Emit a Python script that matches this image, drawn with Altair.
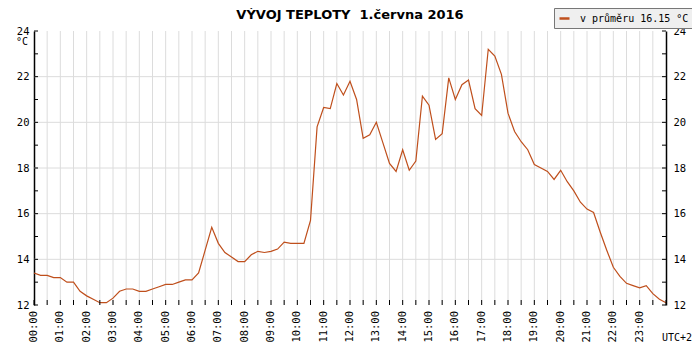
import altair as alt
import pandas as pd

# ---------------- data ----------------
TITLE = "VÝVOJ TEPLOTY\u00a0 1.června 2016"
SERIES = "v průměru 16.15 °C"
UNIT = "°C"
TZ = "UTC+2"
STEP_MIN = 15  # sampling interval in minutes

temps = [
    13.4, 13.3, 13.3, 13.2, 13.2, 13.0, 13.0, 12.6,   # 00:00 - 01:45
    12.4, 12.25, 12.1, 12.1, 12.3, 12.6, 12.7, 12.7,  # 02:00 - 03:45
    12.6, 12.6, 12.7, 12.8, 12.9, 12.9, 13.0, 13.1,   # 04:00 - 05:45
    13.1, 13.4, 14.4, 15.4, 14.7, 14.3, 14.1, 13.9,   # 06:00 - 07:45
    13.9, 14.2, 14.35, 14.3, 14.35, 14.45, 14.75, 14.7,  # 08:00 - 09:45
    14.7, 14.7, 15.7, 19.8, 20.65, 20.6, 21.7, 21.2,  # 10:00 - 11:45
    21.8, 21.0, 19.3, 19.45, 20.0, 19.1, 18.2, 17.85, # 12:00 - 13:45
    18.8, 17.9, 18.3, 21.15, 20.75, 19.25, 19.5, 21.95,  # 14:00 - 15:45
    21.0, 21.65, 21.85, 20.6, 20.3, 23.2, 22.9, 22.1, # 16:00 - 17:45
    20.4, 19.6, 19.15, 18.8, 18.15, 18.0, 17.85, 17.5,   # 18:00 - 19:45
    17.9, 17.4, 17.0, 16.5, 16.2, 16.05, 15.2, 14.4,  # 20:00 - 21:45
    13.65, 13.25, 12.95, 12.85, 12.75, 12.85, 12.5, 12.25,  # 22:00 - 23:45
    12.1,                                             # 24:00
]
hours = [i * STEP_MIN / 60 for i in range(len(temps))]

x_label_hours = list(range(0, 24))
x_label_texts = [
    "00:00", "01:00", "02:00", "03:00", "04:00", "05:00", "06:00", "07:00",
    "08:00", "09:00", "10:00", "11:00", "12:00", "13:00", "14:00", "15:00",
    "16:00", "17:00", "18:00", "19:00", "20:00", "21:00", "22:00", "23:00",
]
x_grid_values = [i / 2 for i in range(1, 48)]         # half-hour grid
x_tick_values = [i / 2 for i in range(0, 49)]
y_label_values = [12, 14, 16, 18, 20, 22, 24]
y_grid_values = [14, 16, 18, 20, 22]
y_tick_values = list(range(12, 25))

# ---------------- style ----------------
W, H = 632, 274
LINE = "#bf4f1c"
GRID = "#dcdcdc"
MONO = "DejaVu Sans Mono"

df = pd.DataFrame({"h": hours, "t": temps, "s": [SERIES] * len(temps)})

xs = alt.Scale(domain=[0, 24], nice=False, zero=False)
ys = alt.Scale(domain=[12, 24], nice=False, zero=False)

x_axis = alt.Axis(
    values=x_label_hours, grid=False, ticks=False, domain=True, labels=False,
    domainColor="black", domainWidth=1.5, title=None,
)
y_axis_left = alt.Axis(
    values=y_label_values, grid=False, ticks=False, domain=True,
    domainColor="black", domainWidth=1.5, labelPadding=5,
    labelFont=MONO, labelFontSize=10.5, labelColor="black", title=None,
    labelOverlap=False, labelFlush=False,
)
y_axis_right = alt.Axis(
    orient="right", values=y_label_values, grid=False, ticks=False, domain=True,
    domainColor="black", domainWidth=1.5, labelPadding=7,
    labelFont=MONO, labelFontSize=10.5, labelColor="black", title=None,
    labelOverlap=False, labelFlush=False,
)

vgrid = alt.Chart(pd.DataFrame({"v": x_grid_values})).mark_rule(
    color=GRID, strokeWidth=1
).encode(x=alt.X("v:Q", scale=xs, axis=None))

hgrid = alt.Chart(pd.DataFrame({"v": y_grid_values})).mark_rule(
    color=GRID, strokeWidth=1
).encode(y=alt.Y("v:Q", scale=ys, axis=None))

line = alt.Chart(df).mark_line(strokeWidth=1.2, interpolate="linear").encode(
    x=alt.X("h:Q", scale=xs, axis=x_axis),
    y=alt.Y("t:Q", scale=ys, axis=y_axis_left),
    color=alt.Color(
        "s:N",
        scale=alt.Scale(range=[LINE]),
        legend=alt.Legend(
            title=None, orient="none", legendX=520, legendY=-23,
            fillColor="#efefef", strokeColor="#777777", padding=4,
            symbolType="stroke", symbolSize=100, symbolStrokeWidth=2.5,
            labelFont=MONO, labelFontSize=10, labelColor="black",
            labelOffset=9, cornerRadius=0,
        ),
    ),
)

x_labels = alt.Chart(
    pd.DataFrame({"h": x_label_hours, "lab": x_label_texts})
).mark_text(
    angle=270, align="right", baseline="middle", font=MONO, fontSize=10.5,
    color="black",
).encode(x=alt.X("h:Q", scale=xs, axis=None), y=alt.value(H + 6), text="lab:N")

bottom_ticks = alt.Chart(pd.DataFrame({"v": x_tick_values})).mark_rule(
    color="black", strokeWidth=1
).encode(x=alt.X("v:Q", scale=xs, axis=None), y=alt.value(H - 5), y2=alt.value(H))

left_ticks = alt.Chart(pd.DataFrame({"v": y_tick_values})).mark_rule(
    color="black", strokeWidth=1
).encode(y=alt.Y("v:Q", scale=ys, axis=None), x=alt.value(0), x2=alt.value(4))

right_ticks = alt.Chart(pd.DataFrame({"v": y_tick_values})).mark_rule(
    color="black", strokeWidth=1
).encode(y=alt.Y("v:Q", scale=ys, axis=y_axis_right), x=alt.value(W - 4), x2=alt.value(W))

title = alt.Chart(pd.DataFrame({"txt": [TITLE]})).mark_text(
    font="DejaVu Sans", fontSize=13, fontWeight="bold", color="black",
    align="center", baseline="alphabetic",
).encode(text="txt:N", x=alt.value(W / 2), y=alt.value(-12))

unit = alt.Chart(pd.DataFrame({"txt": [UNIT]})).mark_text(
    font=MONO, fontSize=10, color="black", align="left", baseline="middle",
).encode(text="txt:N", x=alt.value(-18), y=alt.value(11))

tz = alt.Chart(pd.DataFrame({"txt": [TZ]})).mark_text(
    font=MONO, fontSize=10, color="black", align="left", baseline="alphabetic",
).encode(text="txt:N", x=alt.value(W - 4), y=alt.value(H + 36))

chart = alt.layer(
    vgrid, hgrid, line, x_labels, bottom_ticks, left_ticks, right_ticks,
    title, unit, tz,
).resolve_axis(y="independent").properties(
    width=W, height=H,
    autosize=alt.AutoSizeParams(type="none"),
    padding={"left": 26, "top": 23, "right": 26, "bottom": 37},
).configure_view(stroke=None)

chart.save("out.html", embed_options={"renderer": "svg", "actions": False})
